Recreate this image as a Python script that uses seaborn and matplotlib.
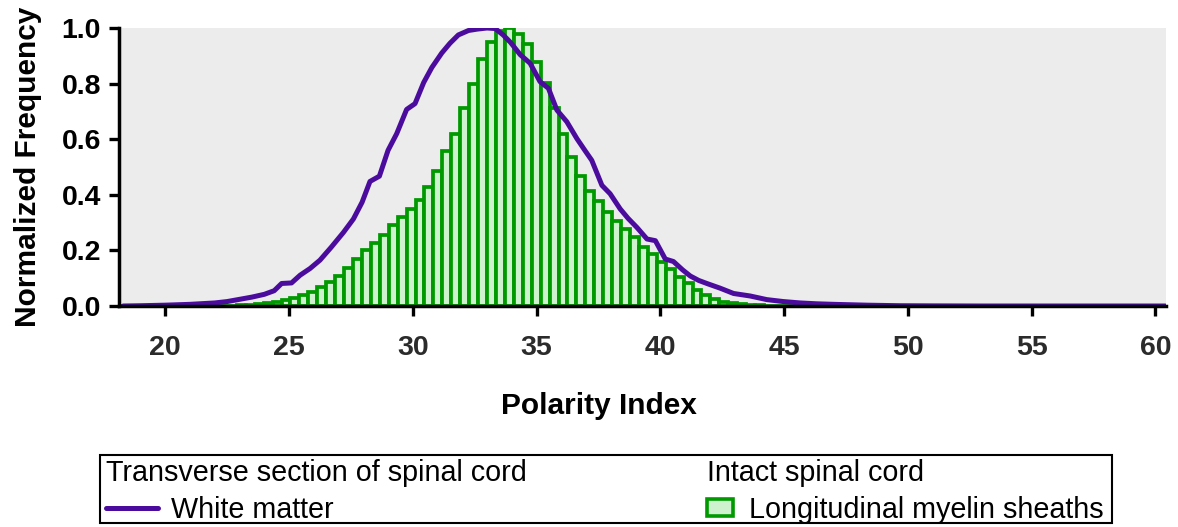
import numpy as np
import pandas as pd
import seaborn as sns
import matplotlib.pyplot as plt
from matplotlib.lines import Line2D
from matplotlib.patches import Patch, Rectangle

# Intact spinal cord: longitudinal myelin sheaths, histogram normalized to its peak bin
bin_start = 22.53          # left edge of the first non-empty bin
bin_width = 0.361
sheath_freq = [
    0.001, 0.002, 0.004, 0.006, 0.009, 0.014, 0.021, 0.030, 0.041, 0.050,
    0.068, 0.085, 0.107, 0.136, 0.168, 0.200, 0.227, 0.255, 0.290, 0.320,
    0.348, 0.380, 0.428, 0.486, 0.557, 0.620, 0.714, 0.798, 0.889, 0.949,
    0.988, 1.000, 0.980, 0.943, 0.876, 0.803, 0.714, 0.617, 0.536, 0.467,
    0.413, 0.377, 0.337, 0.307, 0.277, 0.247, 0.213, 0.186, 0.160, 0.132,
    0.105, 0.081, 0.058, 0.039, 0.025, 0.016, 0.010, 0.006, 0.004, 0.002,
    0.001,
]

# Transverse section of spinal cord: white matter frequency curve
wm_index = [
    18.3, 19.0, 20.0, 21.0, 22.0, 22.5, 23.0, 23.5, 24.0, 24.4,
    24.7, 25.1, 25.45, 25.85, 26.25, 26.7, 27.2, 27.6, 27.95, 28.27,
    28.65, 29.0, 29.35, 29.75, 30.09, 30.44, 30.77, 31.17, 31.5, 31.84,
    32.25, 32.6, 33.0, 33.33, 33.65, 33.95, 34.34, 34.74, 35.14, 35.48,
    35.82, 36.22, 36.63, 36.95, 37.23, 37.64, 37.97, 38.38, 38.7, 39.05,
    39.46, 39.8, 40.2, 40.53, 40.9, 41.21, 41.55, 41.88, 42.42, 42.96,
    43.63, 44.3, 44.97, 45.65, 46.3, 47.0, 48.35, 49.7, 51.0, 53.0,
    55.0, 57.0, 59.0, 60.4,
]
wm_freq = [
    0.0, 0.001, 0.003, 0.006, 0.011, 0.016, 0.024, 0.032, 0.042, 0.055,
    0.081, 0.083, 0.111, 0.135, 0.165, 0.211, 0.265, 0.313, 0.373, 0.448,
    0.467, 0.560, 0.620, 0.707, 0.728, 0.804, 0.858, 0.910, 0.945, 0.975,
    0.991, 0.996, 1.000, 0.998, 0.975, 0.948, 0.904, 0.873, 0.807, 0.783,
    0.705, 0.663, 0.602, 0.560, 0.524, 0.434, 0.404, 0.349, 0.315, 0.283,
    0.241, 0.235, 0.169, 0.160, 0.130, 0.108, 0.092, 0.081, 0.064, 0.045,
    0.036, 0.023, 0.016, 0.011, 0.008, 0.006, 0.003, 0.001, 0.0005, 0.0,
    0.0, 0.0, 0.0, 0.0,
]

x_ticks = [20, 25, 30, 35, 40, 45, 50, 55, 60]
y_ticks = [0.0, 0.2, 0.4, 0.6, 0.8, 1.0]
x_range = (18.13, 60.43)

PURPLE = "#4b0c9e"
GREEN = "#009900"
PALE_GREEN = "#cdf2cd"

sns.set_theme(style="ticks")
plt.rcParams["font.family"] = ["Liberation Sans", "DejaVu Sans"]
plt.rcParams["text.color"] = "black"
plt.rcParams["axes.labelcolor"] = "black"

fig = plt.figure(figsize=(11.78, 5.27), dpi=100)
ax = fig.add_axes([119 / 1178, 1 - 306 / 527, 1047 / 1178, 278 / 527])
ax.set_facecolor("#ececec")

# bins cover the whole visible range so empty bins draw along the baseline
n_before = 13
n_total = n_before + len(sheath_freq) + 60
edges = [float(e) for e in
         bin_start + bin_width * (np.arange(n_total + 1) - n_before)]
sheaths = pd.DataFrame({
    "index": bin_start + bin_width * (np.arange(len(sheath_freq)) + 0.5),
    "freq": sheath_freq,
})
white = pd.DataFrame({"index": wm_index, "freq": wm_freq})

sns.histplot(data=sheaths, x="index", weights="freq", bins=edges,
             stat="count", facecolor=PALE_GREEN, edgecolor=GREEN,
             linewidth=2.7, alpha=1, ax=ax, zorder=2)
sns.lineplot(data=white, x="index", y="freq", color=PURPLE, linewidth=3.6,
             sort=False, ax=ax, zorder=3)

ax.set_xlim(*x_range)
ax.set_ylim(0, 1.0)
ax.set_xticks(x_ticks)
ax.set_yticks(y_ticks)
ax.set_yticklabels([f"{v:.1f}" for v in y_ticks])
ax.tick_params(axis="both", direction="out", length=7, width=2.4,
               labelsize=20.5, color="black")
ax.tick_params(axis="x", pad=14, labelcolor="#2b2b2b")
ax.tick_params(axis="y", pad=6, labelcolor="black")
for lab in ax.get_xticklabels() + ax.get_yticklabels():
    lab.set_fontweight("bold")

for side in ("top", "right"):
    ax.spines[side].set_visible(False)
for side in ("left", "bottom"):
    ax.spines[side].set_linewidth(2.5)
    ax.spines[side].set_color("black")
    ax.spines[side].set_zorder(4)

ax.set_xlabel("Polarity Index", fontsize=21.5, fontweight="bold",
              color="black")
ax.set_ylabel("Normalized Frequency", fontsize=21.5, fontweight="bold",
              color="black")
ax.xaxis.set_label_coords((598.5 - 119) / 1047, (306 - 392) / 278)
ax.yaxis.set_label_coords((42 - 119) / 1047, 0.5)

# legend: two titled columns inside one frame
leg_kw = dict(loc="upper left", frameon=False, alignment="left",
              fontsize=20.7, title_fontsize=20.7, borderpad=0,
              borderaxespad=0, labelspacing=0.3,
              bbox_transform=fig.transFigure)
leg1 = fig.legend(handles=[Line2D([], [], color=PURPLE, linewidth=3.6)],
                  labels=["White matter"],
                  title="Transverse section of spinal cord",
                  bbox_to_anchor=(106 / 1178, 1 - 459 / 527),
                  handlelength=1.8, handletextpad=0.45, **leg_kw)
leg2 = fig.legend(handles=[Patch(facecolor=PALE_GREEN, edgecolor=GREEN,
                                 linewidth=2.6)],
                  labels=["Longitudinal myelin sheaths"],
                  title="Intact spinal cord",
                  bbox_to_anchor=(707 / 1178, 1 - 459 / 527),
                  handlelength=0.9, handleheight=0.55, handletextpad=0.55,
                  **leg_kw)
for leg in (leg1, leg2):
    leg.get_title().set_color("black")
    for t in leg.get_texts():
        t.set_color("black")
fig.add_artist(Rectangle((100 / 1178, 1 - 523 / 527), 1012 / 1178, 68 / 527,
                         transform=fig.transFigure, fill=False,
                         edgecolor="black", linewidth=1.5))

fig.savefig("out.png", dpi=100)
